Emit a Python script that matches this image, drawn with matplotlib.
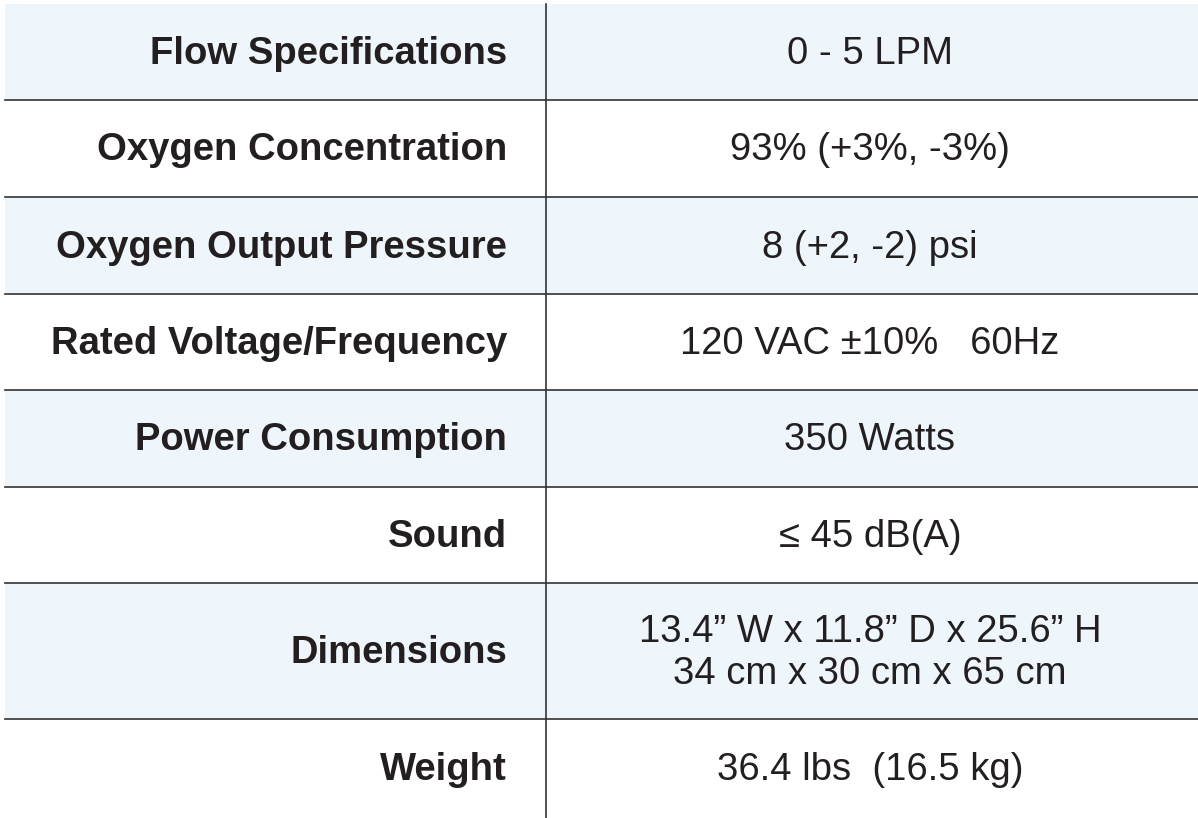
import matplotlib.pyplot as plt
import matplotlib.patches as mpatches

# ========== данные ==========
labels = ["Flow Specifications", "Oxygen Concentration", "Oxygen Output Pressure",
          "Rated Voltage/Frequency", "Power Consumption", "Sound", "Dimensions", "Weight"]
values = ["0 - 5 LPM", "93% (+3%, -3%)", "8 (+2, -2) psi", "120 VAC \u00b110%   60Hz",
          "350 Watts", "\u2264 45 dB(A)",
          "13.4\u201d W x 11.8\u201d D x 25.6\u201d H\n34 cm x 30 cm x 65 cm",
          "36.4 lbs  (16.5 kg)"]
row_edges = [4, 100, 197, 294, 390, 487, 583, 719, 818]

# ========== оформление ==========
W, H, DPI = 1198, 818, 100
BLUE = "#eef6fc"
LINE = "#333333"
TEXT = "#231f20"
DIV_X = 546
LEFT, RIGHT = 5, 1198
FONT = "Liberation Sans"
SIZE = 27.5

fig = plt.figure(figsize=(W / DPI, H / DPI), dpi=DPI)
ax = fig.add_axes([0, 0, 1, 1])
ax.set_xlim(0, W)
ax.set_ylim(H, 0)
ax.set_axis_off()

for i, (lab, val) in enumerate(zip(labels, values)):
    y0, y1 = row_edges[i], row_edges[i + 1]
    if i % 2 == 0:
        ax.add_patch(mpatches.Rectangle((LEFT, y0), RIGHT - LEFT, y1 - y0,
                                        facecolor=BLUE, edgecolor="none"))
    yc = (y0 + y1) / 2
    ax.text(507, yc + 2, lab, ha="right", va="center", fontsize=SIZE,
            fontweight="bold", family=FONT, color=TEXT)
    ax.text(870, yc + 2, val, ha="center", va="center", fontsize=SIZE,
            family=[FONT, "DejaVu Sans"], color=TEXT, linespacing=1.25)
    if i > 0:
        ax.plot([LEFT, RIGHT], [y0, y0], color=LINE, lw=1.2)

ax.plot([DIV_X, DIV_X], [row_edges[0], row_edges[-1]], color=LINE, lw=1.2)

fig.savefig("out.png", dpi=DPI, facecolor="white")
